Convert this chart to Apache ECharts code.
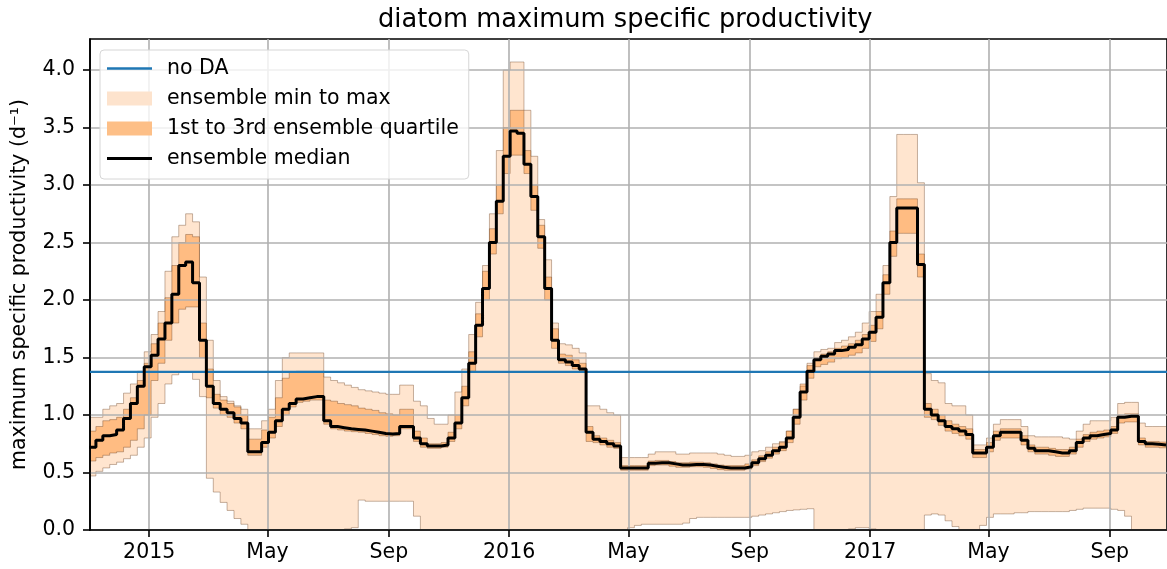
<!DOCTYPE html>
<html>
<head>
<meta charset="utf-8">
<title>diatom maximum specific productivity</title>
<script src="https://cdn.jsdelivr.net/npm/echarts@6/dist/echarts.min.js"></script>
<style>
  html, body { margin: 0; padding: 0; background: #fff; }
  #chart { width: 1167px; height: 569px; }
</style>
</head>
<body>
<div id="chart"></div>
<script>
// weekly ensemble statistics, first week starts here
const weekStart = '2014-11-01';
const axisStart = '2014-11-02';
const axisEnd = '2017-10-29';

// no data assimilation run (constant)
const noDA = 1.375;

const ensMedian = [
  0.72, 0.78, 0.82, 0.83, 0.87, 0.97, 1.10, 1.25, 1.42, 1.52,
  1.66, 1.80, 2.05, 2.30, 2.33, 2.15, 1.65, 1.25, 1.10, 1.05,
  1.02, 0.97, 0.93, 0.68, 0.68, 0.76, 0.85, 0.95, 1.05, 1.10,
  1.14, 1.15, 1.16, 1.16, 0.95, 0.90, 0.89, 0.88, 0.875, 0.87,
  0.86, 0.85, 0.84, 0.835, 0.84, 0.90, 0.90, 0.80, 0.75, 0.73,
  0.73, 0.74, 0.80, 0.93, 1.15, 1.45, 1.78, 2.10, 2.50, 2.86,
  3.25, 3.47, 3.45, 3.18, 2.90, 2.55, 2.10, 1.65, 1.48, 1.46,
  1.43, 1.40, 0.85, 0.79, 0.77, 0.75, 0.73, 0.54, 0.54, 0.54,
  0.54, 0.58, 0.585, 0.585, 0.575, 0.565, 0.565, 0.57, 0.57, 0.565,
  0.555, 0.545, 0.54, 0.54, 0.54, 0.55, 0.585, 0.62, 0.65, 0.69,
  0.72, 0.80, 0.98, 1.20, 1.38, 1.48, 1.51, 1.53, 1.56, 1.57,
  1.59, 1.61, 1.66, 1.72, 1.85, 2.15, 2.50, 2.80, 2.80, 2.80,
  2.31, 1.05, 1.00, 0.95, 0.90, 0.88, 0.86, 0.83, 0.67, 0.67,
  0.72, 0.82, 0.85, 0.85, 0.85, 0.78, 0.71, 0.69, 0.69, 0.68,
  0.67, 0.67, 0.69, 0.76, 0.80, 0.82, 0.83, 0.84, 0.87, 0.98,
  0.99, 0.99, 0.77, 0.75, 0.745, 0.74, 0.74
];

const ensQ3 = [
  0.86, 0.90, 0.95, 0.96, 0.98, 1.05, 1.15, 1.30, 1.45, 1.62,
  1.80, 2.02, 2.30, 2.50, 2.57, 2.55, 1.80, 1.40, 1.18, 1.13,
  1.10, 1.07, 1.00, 0.79, 0.79, 0.87, 0.98, 1.15, 1.32, 1.37,
  1.38, 1.38, 1.38, 1.38, 1.13, 1.12, 1.10, 1.09, 1.08, 1.06,
  1.05, 1.04, 1.02, 1.01, 1.00, 1.05, 1.05, 0.86, 0.80, 0.75,
  0.75, 0.76, 0.85, 1.00, 1.25, 1.55, 1.88, 2.25, 2.62, 3.00,
  3.50, 3.65, 3.65, 3.30, 3.00, 2.65, 2.20, 1.75, 1.53, 1.52,
  1.48, 1.45, 0.90, 0.82, 0.80, 0.78, 0.76, 0.56, 0.56, 0.56,
  0.56, 0.60, 0.605, 0.605, 0.595, 0.585, 0.585, 0.59, 0.59, 0.585,
  0.575, 0.565, 0.56, 0.56, 0.56, 0.575, 0.61, 0.645, 0.68, 0.72,
  0.76, 0.86, 1.05, 1.27, 1.43, 1.50, 1.53, 1.55, 1.58, 1.60,
  1.62, 1.65, 1.70, 1.78, 1.90, 2.22, 2.60, 2.88, 2.88, 2.88,
  2.40, 1.10, 1.05, 1.00, 0.95, 0.92, 0.90, 0.88, 0.70, 0.70,
  0.76, 0.86, 0.88, 0.88, 0.88, 0.82, 0.74, 0.72, 0.72, 0.71,
  0.70, 0.70, 0.72, 0.79, 0.83, 0.85, 0.86, 0.87, 0.90, 1.00,
  1.01, 1.01, 0.80, 0.77, 0.77, 0.765, 0.765
];

const ensQ1 = [
  0.60, 0.63, 0.65, 0.67, 0.68, 0.72, 0.78, 0.88, 1.00, 1.30,
  1.45, 1.65, 1.80, 1.92, 1.94, 1.94, 1.50, 1.15, 1.06, 1.00,
  0.98, 0.93, 0.88, 0.65, 0.65, 0.72, 0.80, 0.90, 1.00, 1.07,
  1.11, 1.12, 1.13, 1.13, 0.92, 0.88, 0.87, 0.86, 0.855, 0.85,
  0.84, 0.83, 0.82, 0.815, 0.82, 0.88, 0.88, 0.77, 0.72, 0.71,
  0.71, 0.72, 0.77, 0.88, 1.08, 1.38, 1.68, 2.00, 2.40, 2.75,
  3.10, 3.26, 3.26, 3.10, 2.78, 2.45, 2.00, 1.58, 1.45, 1.43,
  1.40, 1.38, 0.77, 0.76, 0.74, 0.72, 0.71, 0.52, 0.52, 0.52,
  0.52, 0.56, 0.565, 0.565, 0.555, 0.545, 0.545, 0.55, 0.55, 0.545,
  0.535, 0.525, 0.52, 0.52, 0.52, 0.53, 0.56, 0.595, 0.625, 0.66,
  0.69, 0.76, 0.92, 1.13, 1.32, 1.42, 1.44, 1.46, 1.49, 1.50,
  1.52, 1.54, 1.58, 1.64, 1.75, 2.05, 2.38, 2.58, 2.58, 2.58,
  2.20, 0.98, 0.96, 0.91, 0.86, 0.84, 0.82, 0.79, 0.63, 0.63,
  0.68, 0.78, 0.80, 0.80, 0.80, 0.74, 0.68, 0.66, 0.66, 0.65,
  0.64, 0.64, 0.66, 0.72, 0.77, 0.79, 0.80, 0.81, 0.84, 0.93,
  0.94, 0.94, 0.74, 0.72, 0.72, 0.715, 0.715
];

const ensMax = [
  0.98, 0.98, 1.05, 1.08, 1.10, 1.19, 1.27, 1.38, 1.55, 1.70,
  1.90, 2.25, 2.55, 2.65, 2.75, 2.68, 2.20, 1.65, 1.30, 1.16,
  1.12, 1.08, 1.05, 0.88, 0.88, 0.95, 1.05, 1.30, 1.50, 1.54,
  1.54, 1.54, 1.54, 1.54, 1.33, 1.30, 1.28, 1.26, 1.24, 1.22,
  1.21, 1.20, 1.19, 1.18, 1.18, 1.26, 1.26, 1.12, 1.08, 0.97,
  0.92, 0.92, 1.00, 1.20, 1.40, 1.70, 1.98, 2.30, 2.75, 3.30,
  4.00, 4.07, 4.07, 3.65, 3.25, 2.70, 2.35, 1.80, 1.62, 1.61,
  1.58, 1.54, 1.08, 1.08, 1.05, 1.02, 1.00, 0.63, 0.63, 0.63,
  0.63, 0.66, 0.68, 0.68, 0.68, 0.66, 0.66, 0.67, 0.67, 0.67,
  0.67, 0.66, 0.65, 0.64, 0.64, 0.65, 0.68, 0.69, 0.72, 0.75,
  0.77, 0.86, 1.05, 1.25, 1.45, 1.55, 1.57, 1.58, 1.63, 1.65,
  1.68, 1.72, 1.80, 1.90, 2.05, 2.30, 2.90, 3.44, 3.44, 3.44,
  3.02, 1.36, 1.30, 1.28, 1.10, 1.08, 1.08, 1.00, 0.74, 0.74,
  0.80, 0.92, 0.96, 0.96, 0.96, 0.90, 0.82, 0.81, 0.81, 0.81,
  0.81, 0.80, 0.79, 0.86, 0.92, 0.95, 0.95, 0.95, 0.98, 1.10,
  1.11, 1.11, 0.93, 0.90, 0.90, 0.90, 0.90
];

const ensMin = [
  0.47, 0.51, 0.54, 0.57, 0.59, 0.62, 0.65, 0.72, 0.80, 0.98,
  1.10, 1.27, 1.35, 1.37, 1.37, 1.31, 1.16, 0.45, 0.33, 0.24,
  0.17, 0.10, 0.05, 0, 0, 0, 0, 0, 0, 0,
  0, 0, 0, 0, 0, 0, 0, 0.01, 0.02, 0.26,
  0.25, 0.25, 0.25, 0.25, 0.25, 0.25, 0.25, 0.12, 0, 0,
  0, 0, 0, 0, 0, 0, 0, 0, 0, 0,
  0, 0, 0, 0, 0, 0, 0, 0, 0, 0,
  0, 0, 0, 0, 0, 0, 0, 0, 0.02, 0.04,
  0.05, 0.05, 0.05, 0.05, 0.05, 0.05, 0.06, 0.10, 0.11, 0.11,
  0.11, 0.11, 0.11, 0.11, 0.11, 0.11, 0.12, 0.13, 0.14, 0.15,
  0.16, 0.17, 0.175, 0.18, 0.185, 0, 0, 0, 0, 0,
  0.01, 0.02, 0.02, 0.01, 0, 0, 0, 0, 0, 0,
  0, 0.13, 0.14, 0.13, 0.08, 0.03, 0, 0, 0, 0.04,
  0.11, 0.14, 0.14, 0.14, 0.15, 0.15, 0.16, 0.16, 0.16, 0.16,
  0.16, 0.16, 0.17, 0.18, 0.19, 0.19, 0.19, 0.19, 0.18, 0.17,
  0.12, 0, 0, 0, 0, 0, 0
];

// x ticks and labels
const xTickDates = ['2015-01-01', '2015-05-01', '2015-09-01', '2016-01-01', '2016-05-01', '2016-09-01', '2017-01-01', '2017-05-01', '2017-09-01'];
const xTickLabels = ['2015', 'May', 'Sep', '2016', 'May', 'Sep', '2017', 'May', 'Sep'];
const yTicks = [0, 0.5, 1.0, 1.5, 2.0, 2.5, 3.0, 3.5, 4.0];

const FONT = 'DejaVu Sans';
const EDGE_COLOR = 'rgba(110,70,40,0.5)';

function toTime(s) {
  const p = s.split('-').map(Number);
  return Date.UTC(p[0], p[1] - 1, p[2]);
}

const t0 = toTime(weekStart);
const WEEK = 7 * 24 * 3600 * 1000;
const times = ensMedian.map((_, i) => t0 + i * WEEK);
const pairs = arr => arr.map((v, i) => [times[i], v]);
const xTickTimes = xTickDates.map(toTime);
const xMin = toTime(axisStart);
const xMax = toTime(axisEnd);

// step-shaped band between two weekly series, drawn through the axis scales
function bandRenderer(lo, hi, fill) {
  return function (params, api) {
    const n = times.length;
    const upper = [];
    const lower = [];
    for (let i = 0; i < n; i++) {
      const ta = Math.max(times[i], xMin);
      const tb = i < n - 1 ? times[i + 1] : times[i];
      upper.push(api.coord([ta, hi[i]]), api.coord([tb, hi[i]]));
      lower.push(api.coord([ta, lo[i]]), api.coord([tb, lo[i]]));
    }
    const poly = upper.concat(lower.slice().reverse());
    return {
      type: 'group',
      children: [
        { type: 'polygon', shape: { points: poly }, style: { fill: fill, stroke: null } },
        { type: 'polyline', shape: { points: upper }, style: { fill: null, stroke: EDGE_COLOR, lineWidth: 0.8 } },
        { type: 'polyline', shape: { points: lower }, style: { fill: null, stroke: EDGE_COLOR, lineWidth: 0.8 } }
      ]
    };
  };
}

const chart = echarts.init(document.getElementById('chart'), null, { renderer: 'canvas' });

const option = {
  animation: false,
  backgroundColor: '#fff',
  title: {
    text: 'diatom maximum specific productivity',
    left: 373,
    top: 2,
    textStyle: { fontFamily: FONT, fontSize: 25.7, fontWeight: 'normal', color: '#000' }
  },
  grid: {
    left: 90, right: -2, top: 39, bottom: 39,
    show: true, borderColor: '#000', borderWidth: 1.6
  },
  legend: {
    left: 100, top: 50,
    orient: 'vertical',
    selectedMode: false,
    itemWidth: 45, itemHeight: 14, itemGap: 9,
    padding: [8, 10, 10, 7],
    backgroundColor: 'rgba(255,255,255,0.8)',
    borderColor: '#d6d6d6', borderWidth: 1, borderRadius: 4,
    symbolKeepAspect: true,
    textStyle: { fontFamily: FONT, fontSize: 20.5, color: '#000', padding: [0, 0, 0, 10] },
    data: [
      { name: 'no DA', icon: 'path://M0,0H45V2.4H0Z', itemStyle: { color: '#1f77b4', borderWidth: 0 } },
      { name: 'ensemble min to max', icon: 'rect', itemStyle: { color: '#fde3cd', borderWidth: 0 } },
      { name: '1st to 3rd ensemble quartile', icon: 'rect', itemStyle: { color: '#fdbf87', borderWidth: 0 } },
      { name: 'ensemble median', icon: 'path://M0,0H45V3H0Z', itemStyle: { color: '#000', borderWidth: 0 } }
    ]
  },
  xAxis: {
    type: 'value',
    min: xMin, max: xMax,
    axisLine: { show: true, lineStyle: { color: '#000', width: 1.6 } },
    axisTick: { show: true, length: 7, customValues: xTickTimes, lineStyle: { color: '#000', width: 1.6 } },
    axisLabel: {
      customValues: xTickTimes,
      margin: 12,
      fontFamily: FONT, fontSize: 20.5, color: '#000',
      formatter: function (v) {
        const i = xTickTimes.indexOf(v);
        return i >= 0 ? xTickLabels[i] : '';
      }
    },
    splitLine: { show: true, lineStyle: { color: '#b0b0b0', width: 1.6 } }
  },
  yAxis: {
    type: 'value',
    min: 0, max: 4.27,
    name: 'maximum specific productivity (d⁻¹)',
    nameLocation: 'middle',
    nameGap: 60,
    nameTextStyle: { fontFamily: FONT, fontSize: 20.5, color: '#000' },
    axisLine: { show: true, lineStyle: { color: '#000', width: 1.6 } },
    axisTick: { show: true, length: 7, customValues: yTicks, lineStyle: { color: '#000', width: 1.6 } },
    axisLabel: {
      customValues: yTicks,
      margin: 15,
      fontFamily: FONT, fontSize: 20.5, color: '#000',
      formatter: v => v.toFixed(1)
    },
    splitLine: { show: true, lineStyle: { color: '#b0b0b0', width: 1.6 } }
  },
  series: [
    {
      name: 'ensemble min to max',
      type: 'custom',
      silent: true,
      z: -1,
      itemStyle: { color: '#fde3cd' },
      renderItem: bandRenderer(ensMin, ensMax, 'rgba(255,127,14,0.2)'),
      encode: { x: 0, y: 1 },
      data: [[xMin, 0]]
    },
    {
      name: '1st to 3rd ensemble quartile',
      type: 'custom',
      silent: true,
      z: -1,
      itemStyle: { color: '#fdbf87' },
      renderItem: bandRenderer(ensQ1, ensQ3, 'rgba(255,127,14,0.4)'),
      encode: { x: 0, y: 1 },
      data: [[xMin, 0]]
    },
    {
      name: 'no DA',
      type: 'line',
      symbol: 'none', silent: true,
      itemStyle: { color: '#1f77b4' },
      lineStyle: { color: '#1f77b4', width: 2.2 },
      data: [[xMin, noDA], [xMax, noDA]]
    },
    {
      name: 'ensemble median',
      type: 'line', step: 'end',
      symbol: 'none', silent: true,
      itemStyle: { color: '#000' },
      lineStyle: { color: '#000', width: 3 },
      data: pairs(ensMedian)
    }
  ]
};

chart.setOption(option);
</script>
</body>
</html>
